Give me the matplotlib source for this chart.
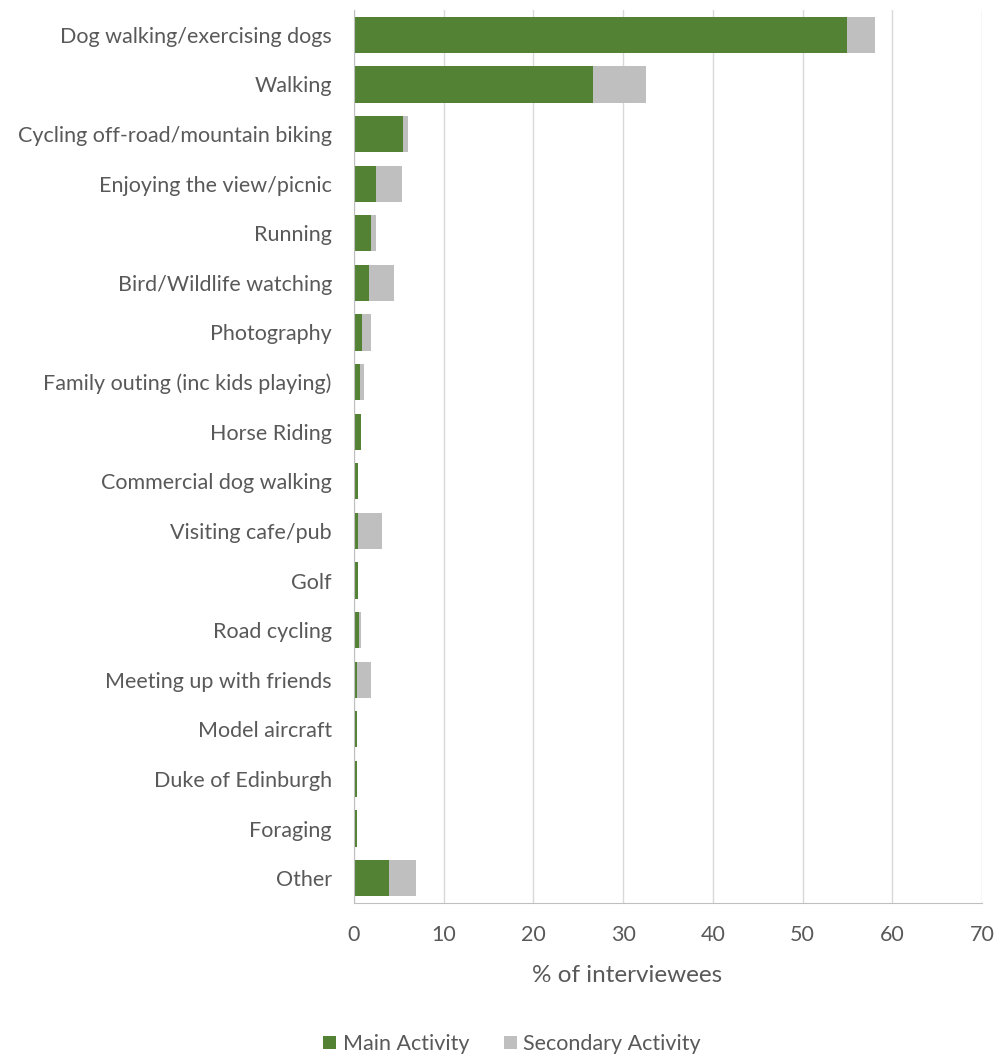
import numpy as np
import matplotlib
matplotlib.use('Agg')
import matplotlib.pyplot as plt

plt.rcParams['font.family'] = ['Lato', 'DejaVu Sans']

# Activities, top to bottom
activities = ['Dog walking/exercising dogs', 'Walking', 'Cycling off-road/mountain biking',
              'Enjoying the view/picnic', 'Running', 'Bird/Wildlife watching', 'Photography',
              'Family outing (inc kids playing)', 'Horse Riding', 'Commercial dog walking',
              'Visiting cafe/pub', 'Golf', 'Road cycling', 'Meeting up with friends',
              'Model aircraft', 'Duke of Edinburgh', 'Foraging', 'Other']
main_activity = [55.0, 26.6, 5.5, 2.4, 1.9, 1.7, 0.9, 0.7, 0.8, 0.5,
                 0.5, 0.5, 0.6, 0.3, 0.3, 0.3, 0.3, 3.9]
secondary_activity = [3.1, 6.0, 0.5, 2.9, 0.5, 2.8, 1.0, 0.4, 0.0, 0.0,
                      2.6, 0.0, 0.2, 1.6, 0.0, 0.0, 0.0, 3.0]
xticks = [0, 10, 20, 30, 40, 50, 60, 70]

green = '#548235'
grey = '#BFBFBF'
text_col = '#595959'

fig = plt.figure(figsize=(10.01, 10.61), dpi=100)
ax = fig.add_axes([354 / 1001, 158 / 1061, 628 / 1001, 893 / 1061])

y = np.arange(len(activities))
ax.barh(y, main_activity, height=0.73, color=green, label='Main Activity', zorder=3)
ax.barh(y, secondary_activity, left=main_activity, height=0.73, color=grey,
        label='Secondary Activity', zorder=3)

ax.set_ylim(len(activities) - 0.5, -0.5)
ax.set_xlim(0, 70)
ax.set_xticks(xticks)
ax.set_yticks(y)
ax.set_yticklabels(activities)
ax.tick_params(axis='both', length=0, labelsize=15.5, colors=text_col)
ax.tick_params(axis='x', pad=16)
ax.tick_params(axis='y', pad=16)

ax.grid(axis='x', color='#D9D9D9', linewidth=1, zorder=0)
for s in ['top', 'right']:
    ax.spines[s].set_visible(False)
ax.spines['left'].set_color('#BFBFBF')
ax.spines['bottom'].set_color('#BFBFBF')
ax.spines['left'].set_zorder(4)

fig.text(627 / 1001, 1 - 975 / 1061, '% of interviewees', fontsize=17.5,
         color=text_col, ha='center', va='center')

leg = fig.legend(loc='center', bbox_to_anchor=(512 / 1001, 1 - 1044 / 1061), ncol=2,
                 frameon=False, fontsize=15.5, handlelength=0.6, handleheight=0.6,
                 columnspacing=1.6, handletextpad=0.3)
for t in leg.get_texts():
    t.set_color(text_col)

fig.savefig('out.png', dpi=100)
